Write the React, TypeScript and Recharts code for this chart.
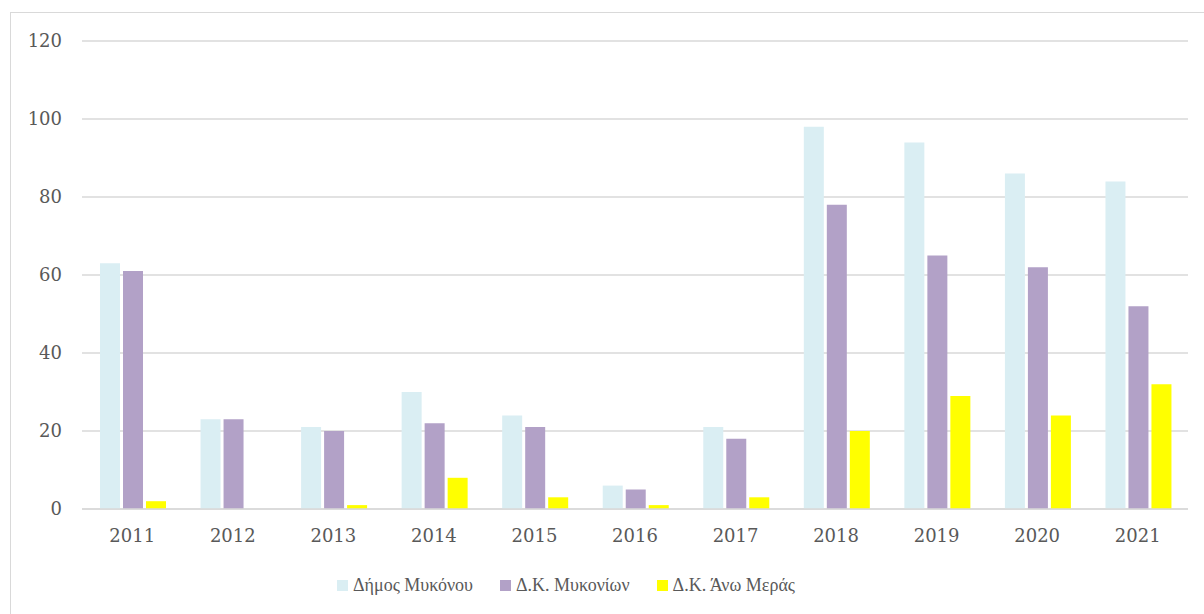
import { BarChart, Bar, XAxis, YAxis, CartesianGrid, Legend } from "recharts";

const years = ["2011", "2012", "2013", "2014", "2015", "2016", "2017", "2018", "2019", "2020", "2021"];
const dimosMykonou = [63, 23, 21, 30, 24, 6, 21, 98, 94, 86, 84];
const dkMykonion = [61, 23, 20, 22, 21, 5, 18, 78, 65, 62, 52];
const dkAnoMeras = [2, 0, 1, 8, 3, 1, 3, 20, 29, 24, 32];
const yTicks = [0, 20, 40, 60, 80, 100, 120];

const series = [
  { key: "dimos", name: "Δήμος Μυκόνου", color: "#DAEEF3", values: dimosMykonou },
  { key: "mykonion", name: "Δ.Κ. Μυκονίων", color: "#B2A1C7", values: dkMykonion },
  { key: "anomera", name: "Δ.Κ. Άνω Μεράς", color: "#FFFF00", values: dkAnoMeras },
];

const data = years.map((year, i) => {
  const row: Record<string, string | number> = { year };
  series.forEach((s) => {
    row[s.key] = s.values[i];
  });
  return row;
});

const font = "'DejaVu Serif', serif";
const legendFont = "'Liberation Serif', serif";
const textColor = "#595959";

function LegendBox() {
  return (
    <div
      style={{
        height: 24,
        display: "flex",
        justifyContent: "center",
        alignItems: "center",
        gap: 27,
        paddingRight: 56,
        fontFamily: legendFont,
        fontSize: 18,
        color: textColor,
      }}
    >
      {series.map((s) => (
        <div key={s.key} style={{ display: "flex", alignItems: "center", gap: 5 }}>
          <span style={{ width: 11, height: 11, background: s.color, display: "inline-block" }} />
          <span>{s.name}</span>
        </div>
      ))}
    </div>
  );
}

export default function App() {
  return (
    <div style={{ position: "absolute", left: 0, top: 0, width: 1204, height: 614, background: "#fff" }}>
      <div
        style={{
          position: "absolute",
          left: 10,
          top: 12,
          width: 1204,
          height: 614,
          border: "1px solid #d9d9d9",
          boxSizing: "border-box",
        }}
      />
      <BarChart
        width={1204}
        height={614}
        data={data}
        margin={{ top: 41, right: 16, bottom: 17, left: 0 }}
        barCategoryGap={18}
        barGap={3}
        style={{ fontFamily: font }}
      >
        <CartesianGrid vertical={false} stroke="#d9d9d9" strokeWidth={1.5} />
        <XAxis
          dataKey="year"
          height={64}
          axisLine={{ stroke: "#d9d9d9", strokeWidth: 1.5 }}
          tickLine={false}
          tickSize={0}
          tickMargin={20}
          tick={{ fill: textColor, fontSize: 18, fontFamily: font }}
        />
        <YAxis
          width={82}
          domain={[0, 120]}
          ticks={yTicks}
          axisLine={false}
          tickLine={false}
          tickSize={0}
          tickMargin={20}
          tick={{ fill: textColor, fontSize: 18, fontFamily: font }}
        />
        <Legend verticalAlign="bottom" height={24} content={() => <LegendBox />} />
        {series.map((s) => (
          <Bar key={s.key} dataKey={s.key} name={s.name} fill={s.color} isAnimationActive={false} />
        ))}
      </BarChart>
    </div>
  );
}
